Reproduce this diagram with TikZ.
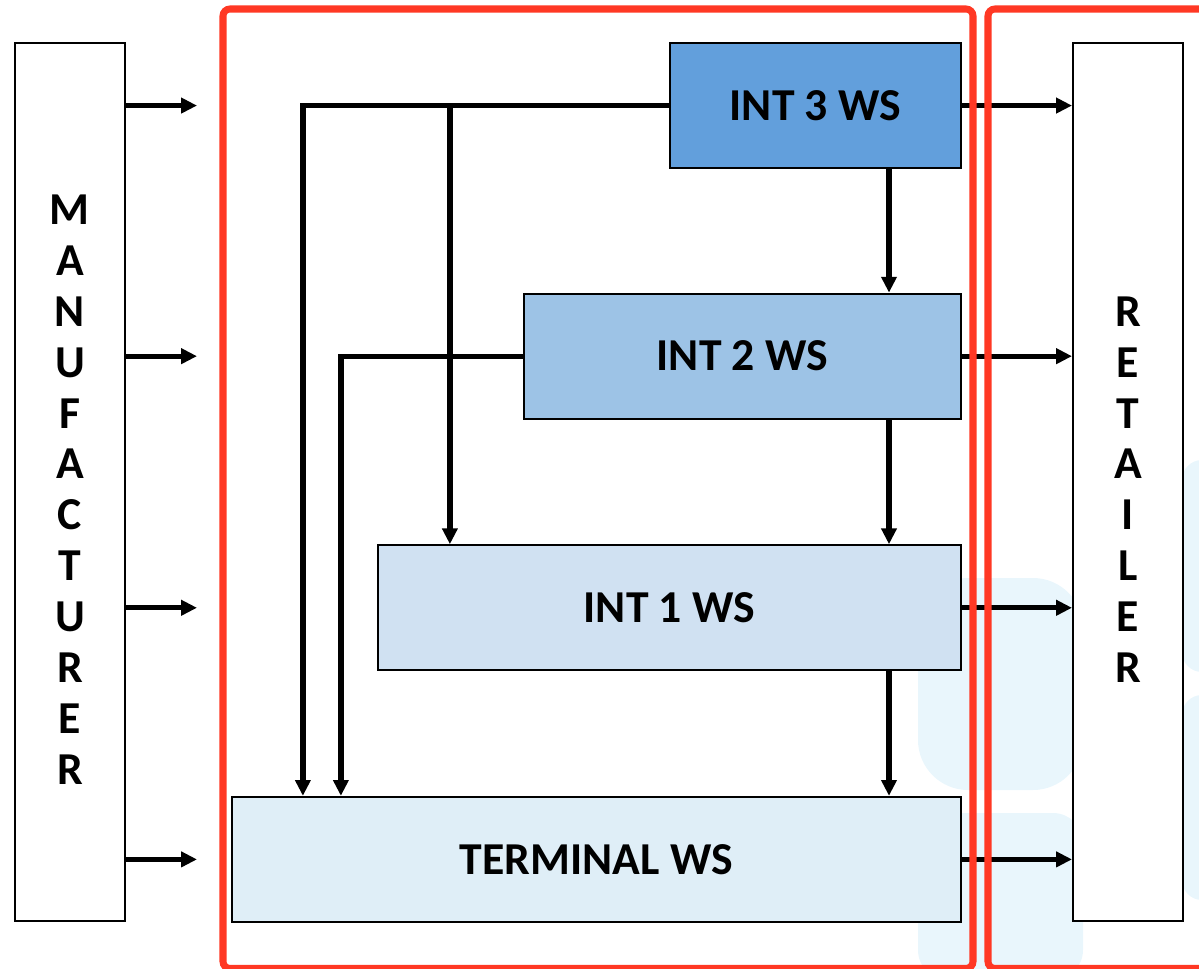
\documentclass[tikz,border=0pt]{standalone}
\usepackage{fontspec}
\setmainfont{Carlito}
\usetikzlibrary{arrows.meta, positioning}
\usepackage{xcolor}

\definecolor{intthreefill}{RGB}{98,159,220}
\definecolor{inttwofill}{RGB}{157,195,230}
\definecolor{intonefill}{RGB}{208,225,242}
\definecolor{terminalfill}{RGB}{223,238,247}
\definecolor{framered}{RGB}{255,56,36}
\definecolor{faintblue}{RGB}{233,246,252}

\begin{document}
\begin{tikzpicture}[
    every node/.style={font=\fontsize{26}{29}\selectfont\bfseries},
    wsbox/.style={
        rectangle,
        draw=black,
        line width=1.2pt,
        minimum height=2.5cm,
        inner sep=0pt
    },
    side/.style={
        rectangle,
        draw=black,
        line width=1.1pt,
        fill=white,
        align=center,
        minimum width=2.2cm,
        minimum height=17.56cm,
        inner sep=0pt
    },
    arrow/.style={
        -{Triangle[length=9pt, width=8.5pt]},
        line width=3pt
    },
    redframe/.style={
        draw=framered,
        line width=4pt,
        rounded corners=4pt
    },
    faint/.style={
        fill=faintblue,
        draw=none
    }
]

\useasboundingbox (0,0) rectangle (23.98,-19.36);

% Faint shapes in the background
\fill[faint, rounded corners=1cm] (18.36,-11.56) rectangle (21.66,-15.8);
\fill[faint, rounded corners=0.6cm] (18.36,-16.26) rectangle (21.66,-19.6);
\fill[faint, rounded corners=0.4cm] (23.64,-9.2) rectangle (24.6,-13.44);
\fill[faint, rounded corners=0.4cm] (23.64,-13.9) rectangle (24.6,-18);

% Main nodes
\node[side, anchor=north west] (mfr) at (0.28,-0.84) {\rule{0pt}{0.9cm}M\\A\\N\\U\\F\\A\\C\\T\\U\\R\\E\\R};

\node[side, anchor=north west] (retailer) at (21.44,-0.84) {\rule{0pt}{0.9cm}R\\E\\T\\A\\I\\L\\E\\R};

\node[wsbox, fill=intthreefill, minimum width=5.82cm, anchor=north east] (intthree) at (19.24,-0.84) {INT 3 WS};

\node[wsbox, fill=inttwofill, minimum width=8.74cm, below=2.47cm of intthree.south east, anchor=north east] (inttwo) {INT 2 WS};

\node[wsbox, fill=intonefill, minimum width=11.66cm, below=2.49cm of inttwo.south east, anchor=north east] (intone) {INT 1 WS};

\node[wsbox, fill=terminalfill, minimum width=14.58cm, below=2.49cm of intone.south east, anchor=north east] (terminal) {TERMINAL WS};

\coordinate (inedge) at (3.94,0);
\coordinate (tap) at ([xshift=1.46cm]intone.north west);

% Arrows in and out
\foreach \ws in {intthree, inttwo, intone, terminal} {
    \draw[arrow] (mfr.east |- \ws) -- (inedge |- \ws);
    \draw[arrow] (\ws.east) -- (retailer.west |- \ws);
}

% Arrows down the right side
\foreach \a/\b in {intthree/inttwo, inttwo/intone, intone/terminal} {
    \draw[arrow] ([xshift=-1.46cm]\a.south east) -- ([xshift=-1.46cm]\b.north east);
}

% Bypass arrows on the left
\draw[arrow] (intthree.west) -| ([xshift=1.44cm]terminal.north west);
\draw[arrow] (inttwo.west) -| ([xshift=2.2cm]terminal.north west);
\draw[arrow] (tap |- intthree.west) -- (tap);

% Red frames
\draw[redframe] (4.46,-0.18) rectangle (19.46,-19.37);
\draw[redframe] (19.76,-0.18) rectangle (24.6,-19.37);

\end{tikzpicture}
\end{document}
